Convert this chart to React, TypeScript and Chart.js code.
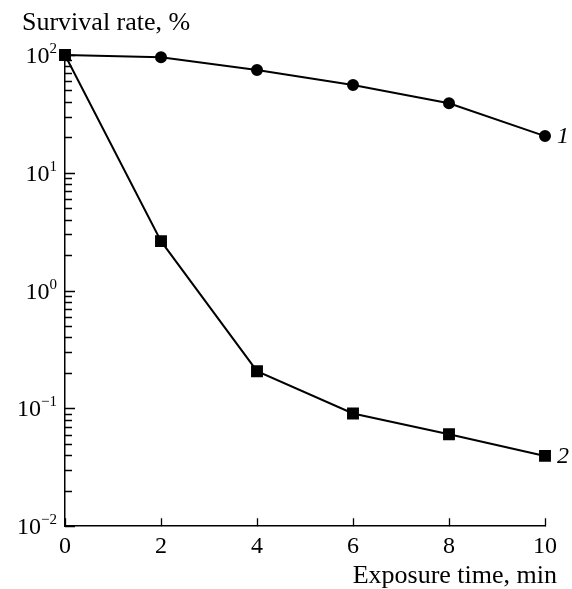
import React, { useEffect, useLayoutEffect, useRef } from "react";
import { Chart, registerables } from "chart.js";

Chart.register(...registerables);

const exposureMinutes = [0, 2, 4, 6, 8, 10];
const survival1 = [100, 95.6, 74.6, 55.6, 38.9, 20.5];
const survival2 = [100, 2.63, 0.207, 0.0906, 0.0604, 0.0395];
const seriesNames = ["1", "2"];
const yDecadeExponents = [-2, -1, 0, 1, 2];
const yTitle = "Survival rate, %";
const xTitle = "Exposure time, min";

const FONT = '"Liberation Serif", "Times New Roman", serif';

const decorPlugin = {
  id: "decor",
  afterDraw(chart: any) {
    const { ctx, chartArea, scales } = chart;
    const xs = scales.x;
    const ys = scales.y;
    ctx.save();
    ctx.strokeStyle = "#000";
    ctx.fillStyle = "#000";
    ctx.lineWidth = 1.3;
    // y ticks (inward)
    ctx.beginPath();
    for (let i = 0; i < yDecadeExponents.length; i++) {
      const e = yDecadeExponents[i];
      const maxM = i === yDecadeExponents.length - 1 ? 1 : 9;
      for (let m = 1; m <= maxM; m++) {
        const v = m * Math.pow(10, e);
        const py = Math.round(ys.getPixelForValue(v)) + 0.5;
        const len = m === 1 ? 10 : 7;
        ctx.moveTo(chartArea.left, py);
        ctx.lineTo(chartArea.left + len, py);
      }
    }
    // x ticks (inward)
    xs.ticks.forEach((t: any) => {
      const px = Math.round(xs.getPixelForValue(t.value)) + 0.5;
      ctx.moveTo(px, chartArea.bottom);
      ctx.lineTo(px, chartArea.bottom - 8);
    });
    ctx.stroke();

    // y tick labels with superscripts
    yDecadeExponents.forEach((e) => {
      const py = ys.getPixelForValue(Math.pow(10, e));
      const exp = e < 0 ? "\u2212" + Math.abs(e) : String(e);
      ctx.font = `15px ${FONT}`;
      const ew = ctx.measureText(exp).width;
      const right = chartArea.left - 8;
      ctx.textAlign = "left";
      ctx.textBaseline = "alphabetic";
      ctx.fillText(exp, right - ew, py - 2);
      ctx.font = `24px ${FONT}`;
      ctx.textAlign = "right";
      ctx.fillText("10", right - ew, py + 8);
    });

    // titles
    ctx.font = `26px ${FONT}`;
    ctx.textAlign = "left";
    ctx.textBaseline = "alphabetic";
    ctx.fillText(yTitle, 22, 30);
    ctx.textAlign = "right";
    ctx.fillText(xTitle, xs.getPixelForValue(10) + 12, 583);

    // series labels
    ctx.font = `italic 24px ${FONT}`;
    ctx.textAlign = "left";
    ctx.textBaseline = "middle";
    chart.data.datasets.forEach((ds: any, i: number) => {
      const n = ds.data.length - 1;
      const px = xs.getPixelForValue(ds.data[n].x);
      const py = ys.getPixelForValue(ds.data[n].y);
      ctx.fillText(seriesNames[i], px + 12, py + 1);
    });
    ctx.restore();
  },
};

export default function App() {
  const ref = useRef<HTMLCanvasElement>(null);
  useLayoutEffect(() => {
    document.body.style.margin = "0";
  }, []);
  useEffect(() => {
    if (!ref.current) return;
    const mk = (vals: number[]) => exposureMinutes.map((x, i) => ({ x, y: vals[i] }));
    const chart = new Chart(ref.current, {
      type: "line",
      data: {
        datasets: [
          {
            label: seriesNames[0],
            data: mk(survival1),
            borderColor: "#000",
            backgroundColor: "#000",
            borderWidth: 2,
            pointStyle: "circle",
            pointRadius: 5,
            pointHoverRadius: 5,
            clip: false as any,
          },
          {
            label: seriesNames[1],
            data: mk(survival2),
            borderColor: "#000",
            backgroundColor: "#000",
            borderWidth: 2,
            pointStyle: "rect",
            pointRadius: 7,
            pointHoverRadius: 7,
            clip: false as any,
          },
        ],
      },
      options: {
        animation: false,
        responsive: false,
        events: [],
        layout: { padding: { left: 65, top: 55, right: 27, bottom: 22 } },
        plugins: { legend: { display: false }, tooltip: { enabled: false } },
        scales: {
          x: {
            type: "linear",
            min: 0,
            max: 10,
            ticks: {
              stepSize: 2,
              color: "#000",
              font: { family: FONT, size: 24 },
              padding: 6,
              maxRotation: 0,
            },
            grid: { display: true, drawOnChartArea: false, drawTicks: false },
            border: { display: true, color: "#000", width: 1.5 },
          },
          y: {
            type: "logarithmic",
            min: 0.01,
            max: 100,
            afterBuildTicks: (scale: any) => {
              scale.ticks = yDecadeExponents.map((e) => ({ value: Math.pow(10, e) }));
            },
            ticks: { display: false },
            grid: { display: true, drawOnChartArea: false, drawTicks: false },
            border: { display: true, color: "#000", width: 1.5 },
          },
        },
      },
      plugins: [decorPlugin],
    });
    return () => chart.destroy();
  }, []);
  return (
    <div style={{ width: 572, height: 589 }}>
      <canvas ref={ref} width={572} height={589} style={{ display: "block" }} />
    </div>
  );
}
